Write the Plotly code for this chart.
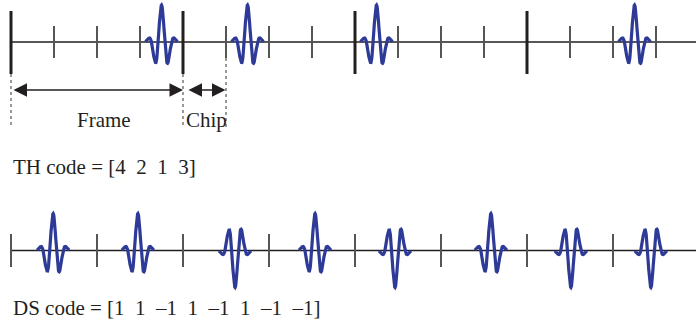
import numpy as np
import plotly.graph_objects as go

# ---- data (x in chip units) ----
th_code = [4, 2, 1, 3]                      # time-hopping chip index per frame
chips_per_frame = 4
n_chips_top = 16
ds_code = [1, 1, -1, 1, -1, 1, -1, -1]      # direct-sequence polarity
ds_times = [0.98, 2.95, 5.21, 7.07, 8.93, 11.16, 13.02, 14.88]  # pulse centres (chips)
ds_tick_step = 2

# ---- styling / geometry ----
W, H = 696, 326
PX_PER_CHIP = 43.0
X0_PX = 11.0
TOP_BASE_PX = 42.0
BOT_BASE_PX = 250.5
BLUE = "#2E3A97"
INK = "#231F20"
GREY = "#555555"
FONT = "Liberation Serif, Times New Roman, serif"

def yv(py):
    return TOP_BASE_PX - py

def xv(px):
    return (px - X0_PX) / PX_PER_CHIP

AMP = 37.0
PER = 13.4 / PX_PER_CHIP
SIG = 6.04 / PX_PER_CHIP
HALF = 16.0 / PX_PER_CHIP

def pulse(center, sign, base):
    t = np.linspace(-HALF, HALF, 121)
    y = base + sign * AMP * np.cos(2 * np.pi * t / PER) * np.exp(-t**2 / (2 * SIG**2))
    return center + t, y

fig = go.Figure()

top_base = yv(TOP_BASE_PX)
bot_base = yv(BOT_BASE_PX)

# top pulses from TH code
for k, c in enumerate(th_code):
    centre = k * chips_per_frame + (c - 1) + 0.5
    x, y = pulse(centre, 1, top_base)
    fig.add_trace(go.Scatter(x=x, y=y, mode="lines",
                             line=dict(color=BLUE, width=3.2), hoverinfo="skip"))

# bottom pulses from DS code
for t0, s in zip(ds_times, ds_code):
    x, y = pulse(t0, s, bot_base)
    fig.add_trace(go.Scatter(x=x, y=y, mode="lines",
                             line=dict(color=BLUE, width=3.2), hoverinfo="skip"))

shapes = []
xmax = xv(W)
# baselines
shapes.append(dict(type="line", x0=0, x1=xmax, y0=top_base, y1=top_base,
                   line=dict(color=INK, width=1.5), layer="below"))
shapes.append(dict(type="line", x0=0, x1=xmax, y0=bot_base, y1=bot_base,
                   line=dict(color=INK, width=1.5), layer="below"))
# top ticks
for i in range(n_chips_top):
    if i % chips_per_frame == 0:
        shapes.append(dict(type="line", x0=i, x1=i, y0=yv(11), y1=yv(74),
                           line=dict(color=INK, width=3)))
    else:
        shapes.append(dict(type="line", x0=i, x1=i, y0=yv(26), y1=yv(58),
                           line=dict(color=GREY, width=2)))
# bottom ticks
for i in range(0, n_chips_top, ds_tick_step):
    shapes.append(dict(type="line", x0=i, x1=i, y0=yv(234), y1=yv(267),
                       line=dict(color=GREY, width=2)))
# dashed guides
for xx, ya, yb in [(0, 74, 125), (chips_per_frame, 74, 128), (chips_per_frame + 1, 58, 128)]:
    shapes.append(dict(type="line", x0=xx, x1=xx, y0=yv(ya), y1=yv(yb),
                       line=dict(color="#333333", width=1, dash="3px,3px")))

anns = []
arrow_y = yv(90)
for xa, xb in [(xv(12), xv(183)), (xv(187), xv(225.5))]:
    anns.append(dict(x=xb, y=arrow_y, ax=xa, ay=arrow_y, xref="x", yref="y",
                     axref="x", ayref="y", text="", showarrow=True,
                     arrowhead=2, arrowside="end+start", arrowsize=1.8,
                     arrowwidth=1.5, arrowcolor=INK, standoff=0, startstandoff=0))

sp = "\u00a0\u00a0"
th_text = "TH code = [" + sp.join(str(v) for v in th_code) + "]"
ds_text = "DS code = [" + sp.join(str(v).replace("-", "\u2013") for v in ds_code) + "]"

def label(text, px, py, anchor="left", size=21):
    return dict(x=xv(px), y=yv(py), xref="x", yref="y", text=text, showarrow=False,
                xanchor=anchor, yanchor="middle",
                font=dict(family=FONT, size=size, color=INK))

anns.append(label("Frame", 104, 120, "center"))
anns.append(label("Chip", 184, 120, "left"))
anns.append(label(th_text, 11, 167))
anns.append(label(ds_text, 11, 308))

fig.update_layout(
    width=W, height=H, margin=dict(l=0, r=0, t=0, b=0),
    paper_bgcolor="white", plot_bgcolor="white", showlegend=False,
    xaxis=dict(range=[xv(0), xv(W)], visible=False, fixedrange=True),
    yaxis=dict(range=[yv(H), yv(0)], visible=False, fixedrange=True),
    shapes=shapes, annotations=anns,
)

fig.write_html("out.html")
